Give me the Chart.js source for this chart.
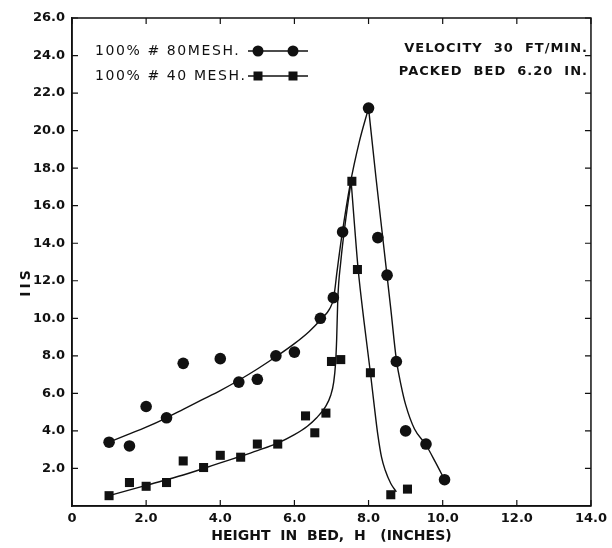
<!DOCTYPE html>
<html>
<head>
<meta charset="utf-8">
<script src="https://cdn.jsdelivr.net/npm/chart.js@4.4.1/dist/chart.umd.min.js"></script>
<style>
  html, body { margin: 0; padding: 0; background: #fff; }
  #wrap { width: 612px; height: 548px; }
</style>
</head>
<body>
<div id="wrap"><canvas id="chart" width="612" height="548"></canvas></div>
<script>
// Axis ticks
const xTicks = [0, 2, 4, 6, 8, 10, 12, 14];
const yTicks = [2, 4, 6, 8, 10, 12, 14, 16, 18, 20, 22, 24, 26];

// 100% #80 mesh (circles)
const mesh80X = [1.0, 1.55, 2.0, 2.55, 3.0, 4.0, 4.5, 5.0, 5.5, 6.0, 6.7, 7.05, 7.3, 8.0, 8.25, 8.5, 8.75, 9.0, 9.55, 10.05];
const mesh80Y = [3.4, 3.2, 5.3, 4.7, 7.6, 7.85, 6.6, 6.75, 8.0, 8.2, 10.0, 11.1, 14.6, 21.2, 14.3, 12.3, 7.7, 4.0, 3.3, 1.4];

// 100% #40 mesh (squares)
const mesh40X = [1.0, 1.55, 2.0, 2.55, 3.0, 3.55, 4.0, 4.55, 5.0, 5.55, 6.3, 6.55, 6.85, 7.0, 7.25, 7.55, 7.7, 8.05, 8.6, 9.05];
const mesh40Y = [0.55, 1.25, 1.05, 1.25, 2.4, 2.05, 2.7, 2.6, 3.3, 3.3, 4.8, 3.9, 4.95, 7.7, 7.8, 17.3, 12.6, 7.1, 0.6, 0.9];

// Hand-drawn fitted curves (left and right of each peak)
const fit80LeftX = [1.0, 1.5, 2.0, 2.55, 3.0, 3.5, 4.0, 4.5, 5.0, 5.5, 6.0, 6.4, 6.72, 6.95, 7.06, 7.15, 7.28, 7.5, 7.75, 8.0];
const fit80LeftY = [3.4, 3.8, 4.2, 4.7, 5.15, 5.65, 6.15, 6.7, 7.3, 7.95, 8.65, 9.3, 9.95, 10.5, 11.1, 12.5, 14.4, 17.1, 19.4, 21.2];
const fit80RightX = [8.0, 8.2, 8.4, 8.6, 8.75, 8.88, 9.0, 9.24, 9.55, 9.8, 10.05];
const fit80RightY = [21.2, 17.5, 14.0, 10.5, 7.8, 6.4, 5.4, 4.1, 3.25, 2.35, 1.4];
const fit40LeftX = [1.0, 2.0, 3.0, 3.55, 4.0, 4.55, 5.0, 5.55, 6.0, 6.35, 6.6, 6.84, 6.98, 7.06, 7.11, 7.14, 7.17, 7.25, 7.38, 7.53];
const fit40LeftY = [0.55, 1.1, 1.65, 2.0, 2.3, 2.65, 2.95, 3.35, 3.8, 4.25, 4.7, 5.3, 5.9, 6.6, 7.6, 8.9, 11.0, 13.0, 15.2, 17.3];
const fit40RightX = [7.53, 7.62, 7.72, 7.88, 8.05, 8.15, 8.25, 8.35, 8.45, 8.6, 8.75];
const fit40RightY = [17.3, 15.0, 12.6, 9.8, 7.1, 5.4, 3.8, 2.6, 1.9, 1.2, 0.75];

// Texts
const legendLabels = ['100% # 80MESH.', '100% # 40 MESH.'];
const noteLines = ['VELOCITY  30  FT/MIN.', 'PACKED  BED  6.20  IN.'];
const xTitle = 'HEIGHT  IN  BED,  H   (INCHES)';
const yTitle = 'IIS';

const INK = '#111';
const FONT = '"DejaVu Sans", sans-serif';

function toPoints(xs, ys) {
    return xs.map((x, i) => ({ x: x, y: ys[i] }));
}

function fitLine(xs, ys) {
    return {
        data: toPoints(xs, ys),
        showLine: true,
        borderColor: INK,
        borderWidth: 1.4,
        pointRadius: 0,
        cubicInterpolationMode: 'monotone',
        fill: false
    };
}

// Frame, inward ticks, legend and notes
const decorations = {
    id: 'decorations',
    afterDraw(chart) {
        const ctx = chart.ctx;
        const area = chart.chartArea;
        const xs = chart.scales.x;
        const ys = chart.scales.y;
        const tick = 6;

        ctx.save();
        ctx.strokeStyle = INK;
        ctx.lineWidth = 1.5;
        ctx.strokeRect(area.left, area.top, area.right - area.left, area.bottom - area.top);

        ctx.lineWidth = 1.2;
        ctx.beginPath();
        xTicks.forEach(v => {
            const px = xs.getPixelForValue(v);
            ctx.moveTo(px, area.bottom); ctx.lineTo(px, area.bottom - tick);
            ctx.moveTo(px, area.top); ctx.lineTo(px, area.top + tick);
        });
        yTicks.forEach(v => {
            const py = ys.getPixelForValue(v);
            ctx.moveTo(area.left, py); ctx.lineTo(area.left + tick, py);
            ctx.moveTo(area.right, py); ctx.lineTo(area.right - tick, py);
        });
        ctx.stroke();

        // y title
        ctx.fillStyle = INK;
        ctx.font = 'bold 14px ' + FONT;
        ctx.textAlign = 'center';
        ctx.textBaseline = 'middle';
        ctx.translate(26, 282);
        ctx.rotate(-Math.PI / 2);
        ctx.letterSpacing = '3px';
        ctx.fillText(yTitle, 0, 0);
        ctx.restore();

        // legend
        ctx.save();
        ctx.fillStyle = INK;
        ctx.strokeStyle = INK;
        ctx.font = '14px ' + FONT;
        ctx.letterSpacing = '1.6px';
        ctx.textBaseline = 'middle';
        ctx.textAlign = 'left';
        const rows = [51, 76];
        const styles = ['circle', 'rect'];
        legendLabels.forEach((label, i) => {
            const y = rows[i];
            ctx.fillText(label, 95, y);
            ctx.lineWidth = 1.4;
            ctx.beginPath();
            ctx.moveTo(248, y); ctx.lineTo(308, y);
            ctx.stroke();
            [258, 293].forEach(px => {
                if (styles[i] === 'circle') {
                    ctx.beginPath();
                    ctx.arc(px, y, 5.5, 0, Math.PI * 2);
                    ctx.fill();
                } else {
                    ctx.fillRect(px - 4.5, y - 4.5, 9, 9);
                }
            });
        });

        // notes, top right
        ctx.font = 'bold 13px ' + FONT;
        ctx.letterSpacing = '1px';
        ctx.textAlign = 'right';
        ctx.fillText(noteLines[0], 588, 49);
        ctx.fillText(noteLines[1], 588, 72);
        ctx.restore();
    }
};

const ctx = document.getElementById('chart').getContext('2d');
const chart = new Chart(ctx, {
    type: 'scatter',
    data: {
        datasets: [
            {
                label: legendLabels[0],
                data: toPoints(mesh80X, mesh80Y),
                pointStyle: 'circle',
                pointRadius: 5.8,
                backgroundColor: INK,
                borderColor: INK,
                borderWidth: 0
            },
            {
                label: legendLabels[1],
                data: toPoints(mesh40X, mesh40Y),
                pointStyle: 'rect',
                pointRadius: 6.4,
                backgroundColor: INK,
                borderColor: INK,
                borderWidth: 0
            },
            fitLine(fit80LeftX, fit80LeftY),
            fitLine(fit80RightX, fit80RightY),
            fitLine(fit40LeftX, fit40LeftY),
            fitLine(fit40RightX, fit40RightY)
        ]
    },
    options: {
        responsive: false,
        animation: false,
        devicePixelRatio: 1,
        layout: { padding: { top: 18, right: 15, left: 0, bottom: 0 } },
        plugins: {
            legend: { display: false },
            tooltip: { enabled: false }
        },
        scales: {
            x: {
                type: 'linear',
                min: 0,
                max: 14,
                afterBuildTicks: s => { s.ticks = xTicks.map(v => ({ value: v })); },
                afterFit: s => { s.height = 42; },
                grid: { display: false, drawTicks: false },
                border: { display: true, color: INK, width: 1.5 },
                ticks: {
                    color: INK,
                    padding: 5,
                    font: { family: FONT, size: 13, weight: 'bold' },
                    callback: v => v === 0 ? '0' : v.toFixed(1)
                },
                title: {
                    display: true,
                    text: xTitle,
                    color: INK,
                    padding: { top: 0, bottom: 3 },
                    font: { family: FONT, size: 14, weight: 'bold' }
                }
            },
            y: {
                type: 'linear',
                min: 0,
                max: 26,
                afterBuildTicks: s => { s.ticks = yTicks.map(v => ({ value: v })); },
                afterFit: s => { s.width = 72; },
                grid: { display: false, drawTicks: false },
                border: { display: true, color: INK, width: 1.5 },
                ticks: {
                    color: INK,
                    padding: 7,
                    font: { family: FONT, size: 13, weight: 'bold' },
                    callback: v => v.toFixed(1)
                }
            }
        }
    },
    plugins: [decorations]
});
</script>
</body>
</html>
